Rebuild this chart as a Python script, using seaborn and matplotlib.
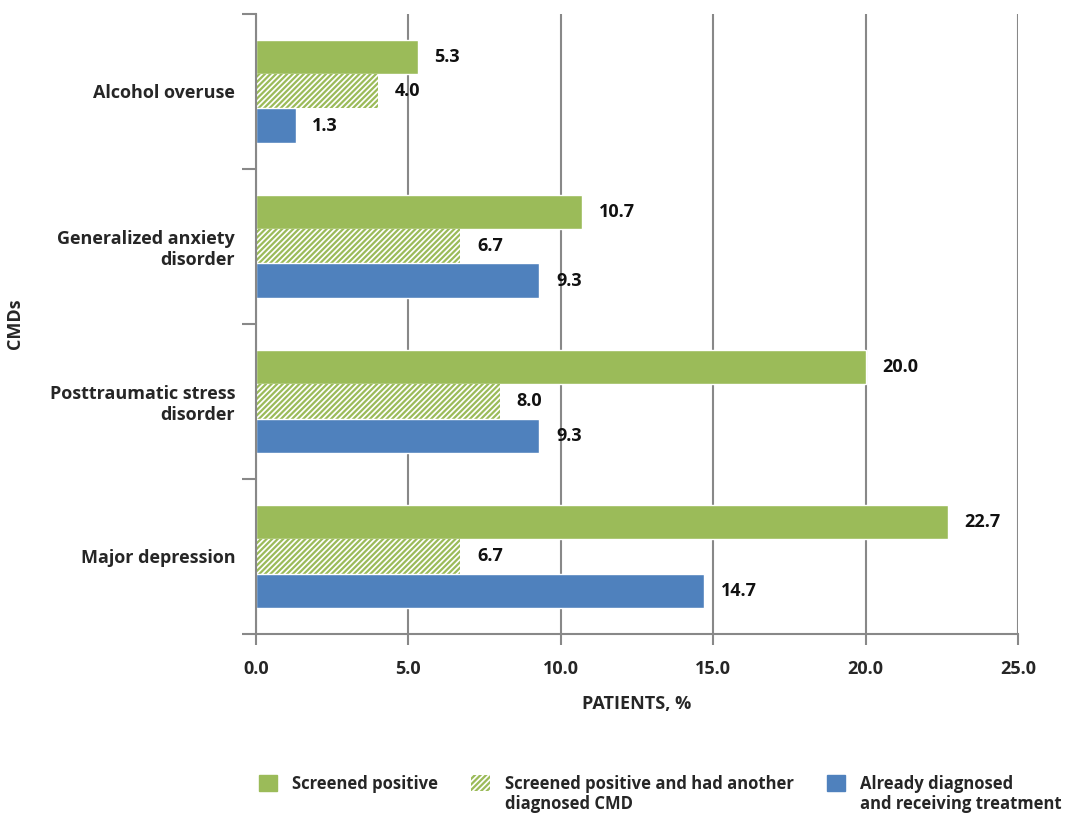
import matplotlib
matplotlib.use('Agg')
from matplotlib import pyplot as plt
from matplotlib.patches import Patch
import pandas as pd
import seaborn as sns

categories = ['Alcohol overuse', 'Generalized anxiety\ndisorder',
              'Posttraumatic stress\ndisorder', 'Major depression']
series = ['Screened positive', 'Screened positive and had another\ndiagnosed CMD',
          'Already diagnosed\nand receiving treatment']
screened = [5.3, 10.7, 20.0, 22.7]
screened_other = [4.0, 6.7, 8.0, 6.7]
diagnosed = [1.3, 9.3, 9.3, 14.7]
x_ticks = [0, 5, 10, 15, 20, 25]

green = '#9BBB59'
blue = '#4F81BD'

df = pd.DataFrame({
    'CMD': categories * 3,
    'Group': [series[0]] * 4 + [series[1]] * 4 + [series[2]] * 4,
    'Value': screened + screened_other + diagnosed,
})

sns.set_theme(style='white')
plt.rcParams['font.family'] = ['Open Sans', 'DejaVu Sans']
plt.rcParams['font.weight'] = 'bold'
plt.rcParams['hatch.linewidth'] = 1.6

fig = plt.figure(figsize=(10.77, 8.17), dpi=100)
ax = fig.add_axes([0.2377, 0.224, 0.7075, 0.759])

sns.barplot(data=df, x='Value', y='CMD', hue='Group', order=categories,
            hue_order=series, palette=[green, 'white', blue], width=0.66,
            saturation=1, ax=ax, legend=False, errorbar=None)

# middle series: green diagonal hatch on white
for bar in ax.containers[1]:
    bar.set_hatch('//////')
    bar.set_edgecolor(green)
    bar.set_linewidth(0)

for cont in ax.containers:
    ax.bar_label(cont, fmt='%.1f', padding=12, fontsize=13, fontweight='bold',
                 color='#111111')

ax.set_xlim(0, 25)
ax.set_ylim(3.5, -0.5)
ax.set_xticks(x_ticks)
ax.set_xticklabels([f'{t:.1f}' for t in x_ticks], fontsize=13, fontweight='bold')
ax.set_yticks(range(4))
ax.set_yticklabels(categories, fontsize=13)
ax.set_yticks([-0.5, 0.5, 1.5, 2.5, 3.5], minor=True)
ax.tick_params(axis='y', which='major', length=0, pad=15)
ax.tick_params(axis='y', which='minor', length=10, width=1.5, color='#888888',
               left=True)
ax.tick_params(axis='x', length=8, width=1.5, color='#888888', pad=11,
               bottom=True)
ax.xaxis.grid(True, color='#888888', linewidth=1.5)
ax.set_axisbelow(True)
for side in ['top', 'right']:
    ax.spines[side].set_visible(False)
for side in ['left', 'bottom']:
    ax.spines[side].set_color('#888888')
    ax.spines[side].set_linewidth(1.5)

ax.set_xlabel('PATIENTS, %', fontsize=13, fontweight='bold', labelpad=12)
ax.set_ylabel('CMDs', fontsize=13, fontweight='bold')
ax.yaxis.set_label_coords(-0.305, 0.5)

handles = [
    Patch(facecolor=green, edgecolor=green),
    Patch(facecolor='white', hatch='//////', edgecolor=green, linewidth=0),
    Patch(facecolor=blue, edgecolor=blue),
]
leg = fig.legend(handles, series, loc='upper left', bbox_to_anchor=(0.234, 0.06),
                 ncol=3, frameon=False, fontsize=12, handlelength=1.1,
                 handleheight=1.1, columnspacing=2.0, handletextpad=0.9,
                 borderaxespad=0, labelspacing=0)
# keep the square markers level with the first line of each label
for col in leg._legend_handle_box.get_children():
    for item in col.get_children():
        item.align = 'top'
leg._legend_handle_box.align = 'top'

fig.savefig('out.png', dpi=100)
